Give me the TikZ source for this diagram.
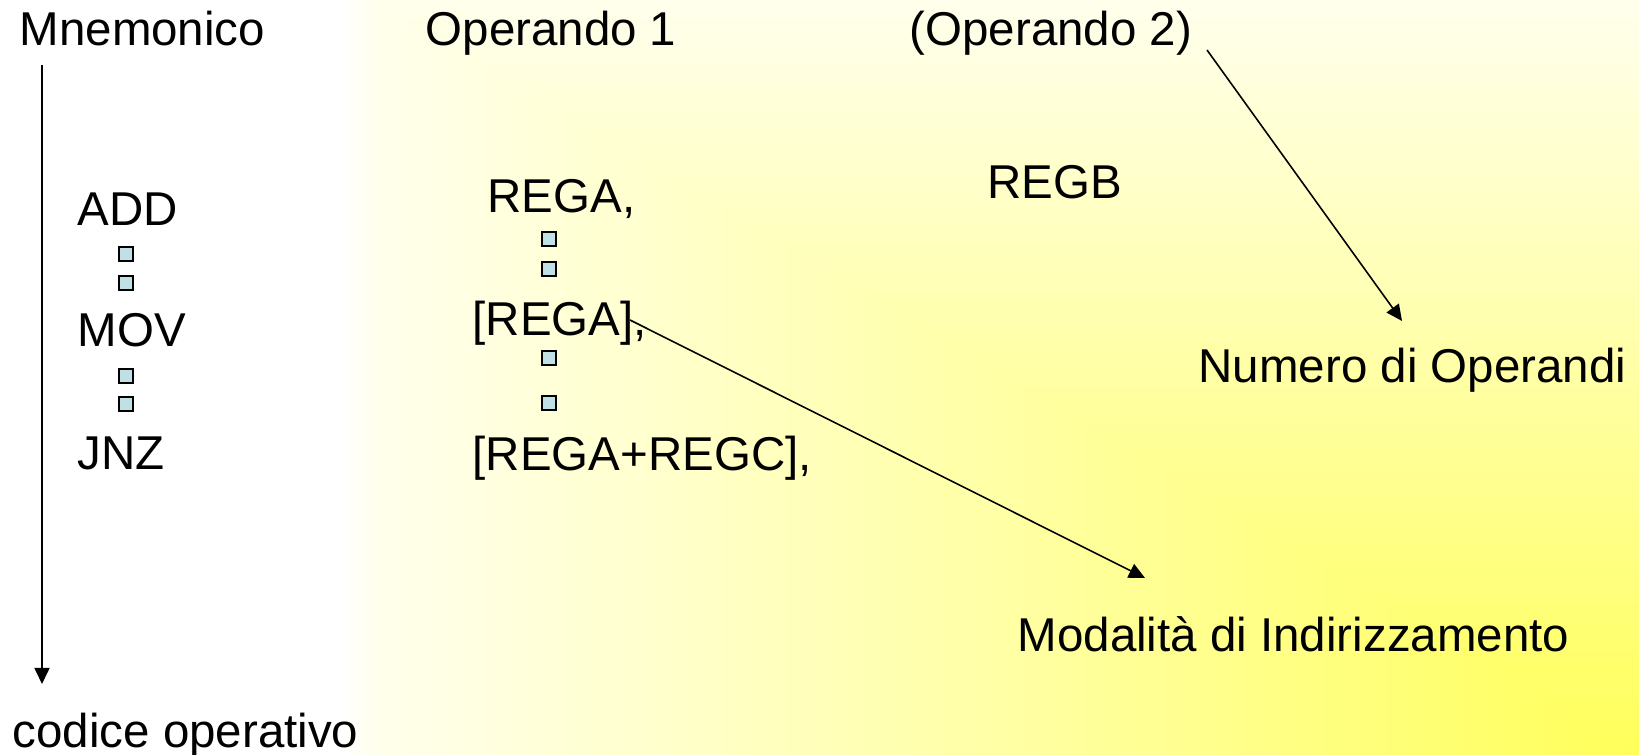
\documentclass[tikz,border=0pt]{standalone}
\usepackage{fontspec}
\setmainfont{Liberation Sans}
\usetikzlibrary{arrows.meta}

\definecolor{bgyellow}{HTML}{FFFF5A}
\definecolor{bgcream}{HTML}{FFFFEC}
\definecolor{sqblue}{HTML}{BFE1E6}

\begin{document}
\begin{tikzpicture}[x=0.01cm,y=-0.01cm,
		lbl/.style={anchor=base west,inner sep=0pt,font=\fontsize{13.5}{16}\selectfont},
		sq/.style={draw=black,fill=sqblue,line width=0.6pt,minimum size=0.135cm,inner sep=0pt},
		pointer/.style={line width=0.45pt,-{Triangle[length=0.16cm,width=0.15cm]}}]

			% sfondo: bianco, riquadro sfumato dall'angolo in basso a destra
			\useasboundingbox (0,0) rectangle (1639,755);
			\fill[white] (0,0) rectangle (1639,755);
			\shade[left color=white, right color=bgcream] (340,0) rectangle (376,755);
			\foreach \i in {0,...,79}{
				\pgfmathsetmacro\s{1-\i/80}
				\pgfmathsetmacro\p{100*\i/80}
				\fill[bgyellow!\p!bgcream] ({1639-\s*1264},{755-\s*755}) rectangle (1639,755);
			}

			% intestazioni
			\node[lbl] (mnem) at (19,46) {Mnemonico};
			\node[lbl] (op1)  at (425,46) {Operando 1};
			\node[lbl] (op2)  at (909,46) {(Operando 2)};

			% codici operativi
			\node[lbl] (add) at (77,226) {ADD};
			\node[lbl] (mov) at (77,347) {MOV};
			\node[lbl] (jnz) at (77,470) {JNZ};
			\node[sq] (s1) at (126,254) {};
			\node[sq] (s2) at (126,283) {};
			\node[sq] (s3) at (126,376) {};
			\node[sq] (s4) at (126,404) {};

			% operandi
			\node[lbl] (rega)  at (487,213) {REGA,};
			\node[lbl] (regai) at (472,336) {[REGA],};
			\node[lbl] (regac) at (472,471) {[REGA+REGC],};
			\node[lbl] (regb)  at (987,199) {REGB};
			\node[sq] (s5) at (549,239) {};
			\node[sq] (s6) at (549,269) {};
			\node[sq] (s7) at (549,358) {};
			\node[sq] (s8) at (549,403) {};

			% note
			\node[lbl] (numop) at (1198,383) {Numero di Operandi};
			\node[lbl] (modind) at (1017,651) {Modalità di Indirizzamento};
			\node[lbl] (codop) at (12,747) {codice operativo};

			% frecce
			\coordinate (c1) at (42,65);
			\coordinate (c2) at (42,684);
			\coordinate (c3) at (1207,50);
			\coordinate (c4) at (1402,321);
			\coordinate (c5) at (630,320);
			\coordinate (c6) at (1145,578);

			\draw[pointer] (c1) -- (c2);
			\draw[pointer] (c3) -- (c4);
			\draw[pointer] (c5) -- (c6);
		\end{tikzpicture}
\end{document}
